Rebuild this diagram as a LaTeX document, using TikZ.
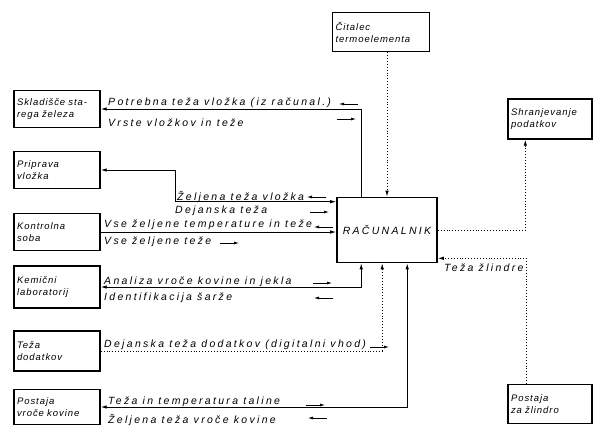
\documentclass[tikz,border=0pt]{standalone}
\usepackage{fontspec}
\setmainfont{Liberation Sans}[LetterSpace=22]
\newfontfamily\blokfont{Liberation Sans}[LetterSpace=10, WordSpace=1.4]
\usetikzlibrary{arrows.meta}

\tikzset{
  >={Latex[length=6pt, width=3.5pt]},
  blok/.style={draw, line width=1.4pt, inner sep=3pt, align=left,
    minimum height=37pt, text width=#1, font=\blokfont\itshape\fontsize{9.5}{12}\selectfont},
  napis/.style={anchor=west, inner sep=1pt, font=\itshape\fontsize{10.5}{12}\selectfont},
  vod/.style={line width=.9pt},
  pik/.style={line width=.9pt, dotted}
}

\begin{document}
\begin{tikzpicture}[x=1pt, y=-1pt]
  \useasboundingbox (0,0) rectangle (594,426);
  % bloki
  \node[blok=80pt] (sklad) at (57,109) {Skladišče sta-\\rega železa};
  \node[blok=80pt] (priprava) at (57,170) {Priprava\\vložka};
  \node[blok=80pt] (kontrola) at (57,232) {Kontrolna\\soba};
  \node[blok=80pt, minimum height=42pt] (kemija) at (57,287) {Kemični\\laboratorij};
  \node[blok=80pt, minimum height=40pt] (dodatki) at (57,351) {Teža\\dodatkov};
  \node[blok=80pt, minimum height=35pt] (vroca) at (57,407) {Postaja\\vroče kovine};
  \node[blok=91pt, minimum height=39pt] (citalec) at (381,32) {Čitalec\\termoelementa};
  \node[blok=78pt, minimum height=40pt] (shranj) at (550,119) {Shranjevanje\\podatkov};
  \node[blok=78pt, minimum height=39pt] (zlindra) at (550,404) {Postaja\\za žlindro};
  \node[draw, line width=1.6pt, minimum width=100pt, minimum height=65pt,
    font=\itshape\fontsize{10.5}{12}\selectfont] (rac) at (387,230) {RAČUNALNIK};

  % povezave
  \draw[vod, ->] ([xshift=25pt]rac.north west) |- (sklad.east);
  \draw[vod, <->] (priprava.east) -- ++(75,0) |- ([yshift=-5pt]rac.north west);
  \draw[vod, ->] (kontrola.east) -- (kontrola.east -| rac.west);
  \draw[vod, <->] (kemija.east) -| ([xshift=25pt]rac.south west);
  \draw[pik, ->] (dodatki.east) -| ([xshift=46pt]rac.south west);
  \draw[vod, <->] (vroca.east) -| ([xshift=71pt]rac.south west);
  \draw[pik, ->] (citalec.south -| rac.north) -- (rac.north);
  \draw[pik, ->] (rac.east) -| ([xshift=18pt]shranj.south west);
  \draw[pik, ->] ([xshift=19pt]zlindra.north west) |- ([yshift=5pt]rac.south east);

  % napisi
  \node[napis] (potrebna) at (107,103) {Potrebna teža vložka (iz računal.)};
  \node[napis] (vrste) at (107,123) {Vrste vložkov in teže};
  \node[napis] (zeljena) at (176,197) {Željena teža vložka};
  \node[napis] (dejanska) at (174,211) {Dejanska teža};
  \node[napis] (vse) at (103,225) {Vse željene temperature in teže};
  \node[napis] (vseteze) at (103,242) {Vse željene teže};
  \node[napis] (analiza) at (103,282) {Analiza vroče kovine in jekla};
  \node[napis] (ident) at (103,298) {Identifikacija šarže};
  \node[napis] (dodatek) at (103,345) {Dejanska teža dodatkov (digitalni vhod)};
  \node[napis] (taline) at (107,402) {Teža in temperatura taline};
  \node[napis] (kovine) at (107,420) {Željena teža vroče kovine};
  \node[napis] (zlindrat) at (443,268) {Teža žlindre};

  % smeri
  \foreach \x/\y/\d in {358/104/-1, 337/119/1, 326/197/-1, 310/212/1, 333/227/-1,
    220/243/1, 313/283/1, 333/298/-1, 370/347/1, 306/405/1, 327/418/-1}
    \draw[line width=.7pt, ->, >={Latex[length=5pt, width=3pt]}] (\x,\y) -- ++(\d*19,0);
\end{tikzpicture}
\end{document}
